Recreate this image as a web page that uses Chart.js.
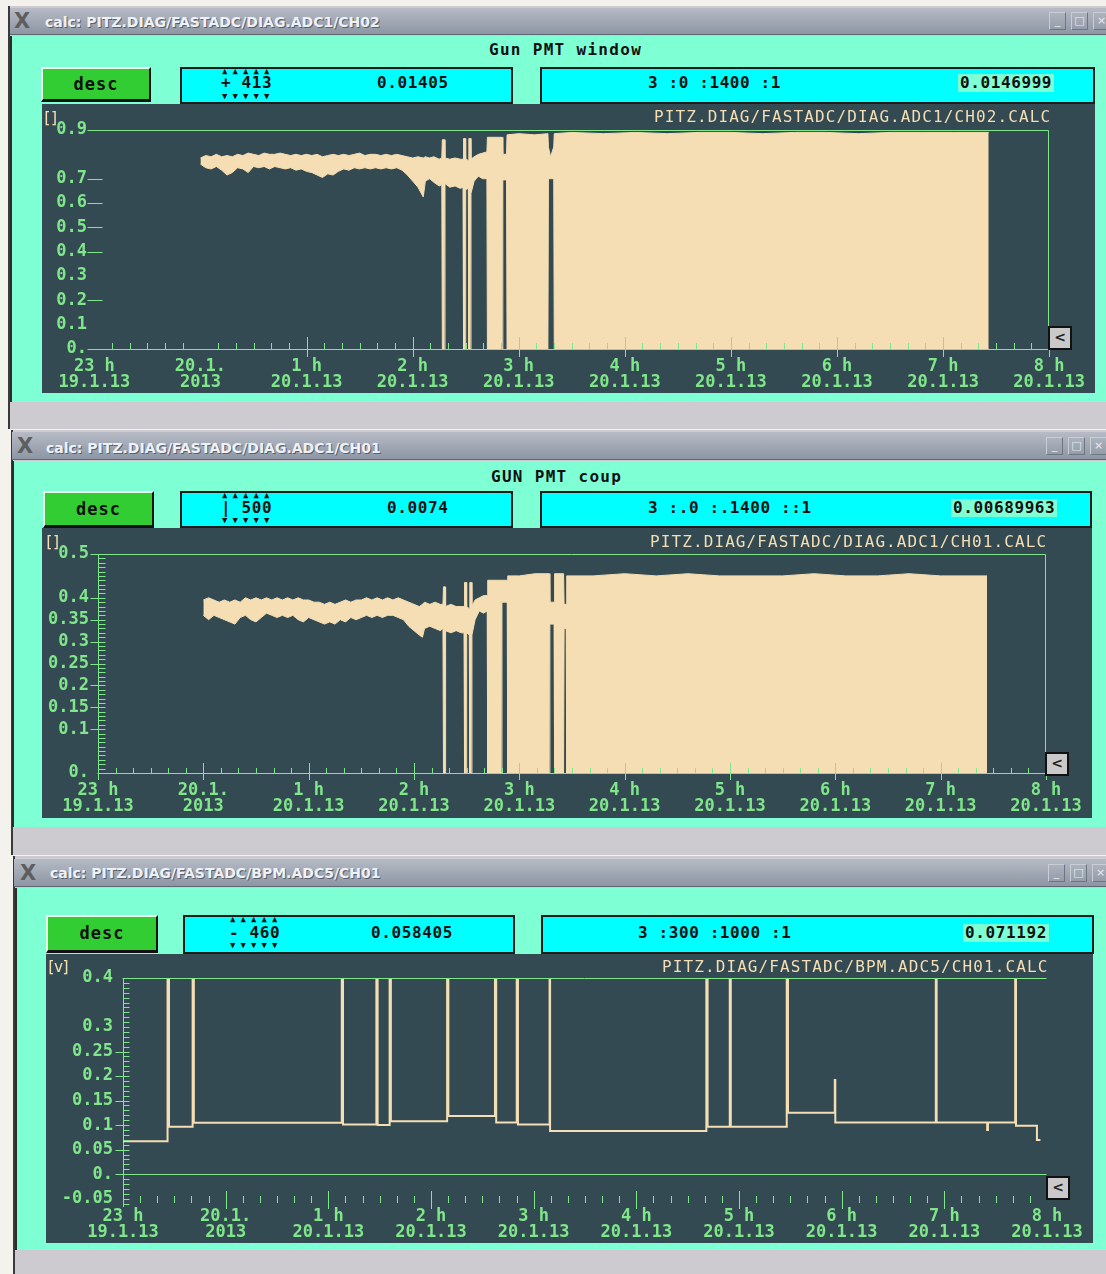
<!DOCTYPE html>
<html>
<head>
<meta charset="utf-8">
<script src="https://cdn.jsdelivr.net/npm/chart.js@4.4.1/dist/chart.umd.min.js"></script>
<style>
  body { margin: 0; width: 1106px; height: 1274px; background: #f4f2ec; position: relative; overflow: hidden; }
  .a { position: absolute; white-space: nowrap; }
  .frame { background: #cdcbcf; border-left: 2px solid #3a3a3a; }
  .bar { background: linear-gradient(#b6bbc5, #8d96a4); border-bottom: 1px solid #5f6672; }
  .ttl { font: bold 14px 'DejaVu Sans', sans-serif; color: #eef1f5; text-shadow: 1px 1px 0 #5a606b; line-height: 16px; }
  .xi { font: bold 21px 'DejaVu Sans', sans-serif; color: #5e5e5e; line-height: 22px; }
  .wb { width: 17px; height: 18px; border: 1px solid #c9cdd5; border-right-color: #6f7682; border-bottom-color: #6f7682; box-sizing: border-box; font: 11px 'DejaVu Sans'; color: #e8ebf0; text-align: center; line-height: 16px; }
  .body { background: #7fffd4; border-left: 2px solid #2c2c2c; }
  .head { font: bold 16px 'DejaVu Sans Mono', monospace; color: #111; letter-spacing: 1.3px; line-height: 18px; }
  .desc { background: #32cd32; border-top: 2px solid #eaffea; border-left: 2px solid #eaffea; border-right: 2px solid #111; border-bottom: 3px solid #111; box-sizing: border-box; font: bold 17px 'DejaVu Sans Mono', monospace; color: #111; text-align: center; letter-spacing: 1px; }
  .cy { background: #00ffff; border: 2px solid #1c1c1c; box-sizing: border-box; }
  .t { font: bold 16px 'DejaVu Sans Mono', monospace; color: #111; line-height: 18px; letter-spacing: 0.6px; }
  .arr { font: 9px 'DejaVu Sans Mono', monospace; color: #111; letter-spacing: 5.1px; line-height: 9px; }
  .hl { background: #7fffd4; padding: 0 2px; }
  .dark { background: #334a52; }
  .wt { font: 16px 'DejaVu Sans Mono', monospace; color: #f5deb3; line-height: 16px; letter-spacing: 1.1px; }
  .br { letter-spacing: -2px; }
  .sb { width: 24px; height: 24px; background: #c9c9c9; border: 2px solid #111; box-sizing: border-box; font: bold 14px 'DejaVu Sans'; color: #222; text-align: center; line-height: 19px; }
  canvas { position: absolute; }
</style>
</head>
<body>

<!-- window 1 -->
<div class="a frame" style="left:8px;top:6px;width:1098px;height:423px"></div>
<div class="a bar" style="left:10px;top:8px;width:1096px;height:26px"></div>
<div class="a xi" style="left:14px;top:10px">X</div>
<div class="a ttl" style="left:45px;top:14px">calc: PITZ.DIAG/FASTADC/DIAG.ADC1/CH02</div>
<div class="a wb" style="left:1049px;top:12px">_</div>
<div class="a wb" style="left:1071px;top:12px">□</div>
<div class="a wb" style="left:1093px;top:12px">×</div>
<div class="a body" style="left:10px;top:36px;width:1094px;height:366px"></div>
<div class="a head" style="left:489px;top:41px">Gun PMT window</div>
<div class="a desc" style="left:41px;top:67px;width:110px;height:35px;line-height:30px">desc</div>
<div class="a cy" style="left:180px;top:67px;width:333px;height:37px"></div>
<div class="a arr" style="left:222px;top:67px">▲▲▲▲▲</div>
<div class="a t" style="left:221px;top:74px">+ 413</div>
<div class="a arr" style="left:222px;top:92px">▼▼▼▼▼</div>
<div class="a t" style="left:377px;top:74px">0.01405</div>
<div class="a cy" style="left:540px;top:67px;width:555px;height:37px"></div>
<div class="a t" style="left:648px;top:74px">3 :0 :1400 :1</div>
<div class="a t hl" style="left:958px;top:74px">0.0146999</div>
<div class="a dark" style="left:42px;top:104px;width:1053px;height:289px"></div>
<canvas id="c1" width="1053" height="290" style="left:42px;top:103px"></canvas>
<div class="a wt br" style="left:42px;top:110px">[]</div>
<div class="a wt" style="left:654px;top:109px">PITZ.DIAG/FASTADC/DIAG.ADC1/CH02.CALC</div>
<div class="a sb" style="left:1048px;top:326px">&lt;</div>

<!-- window 2 -->
<div class="a frame" style="left:11px;top:430px;width:1095px;height:425px"></div>
<div class="a bar" style="left:12px;top:432px;width:1094px;height:27px"></div>
<div class="a xi" style="left:17px;top:435px">X</div>
<div class="a ttl" style="left:46px;top:440px">calc: PITZ.DIAG/FASTADC/DIAG.ADC1/CH01</div>
<div class="a wb" style="left:1046px;top:437px">_</div>
<div class="a wb" style="left:1068px;top:437px">□</div>
<div class="a wb" style="left:1090px;top:437px">×</div>
<div class="a body" style="left:12px;top:461px;width:1092px;height:366px"></div>
<div class="a head" style="left:491px;top:468px">GUN PMT coup</div>
<div class="a desc" style="left:43px;top:491px;width:111px;height:37px;line-height:32px">desc</div>
<div class="a cy" style="left:180px;top:491px;width:333px;height:37px"></div>
<div class="a arr" style="left:222px;top:491px">▲▲▲▲▲</div>
<div class="a t" style="left:221px;top:499px">| 500</div>
<div class="a arr" style="left:222px;top:516px">▼▼▼▼▼</div>
<div class="a t" style="left:387px;top:499px">0.0074</div>
<div class="a cy" style="left:540px;top:491px;width:552px;height:37px"></div>
<div class="a t" style="left:648px;top:499px">3 :.0 :.1400 ::1</div>
<div class="a t hl" style="left:951px;top:499px">0.00689963</div>
<div class="a dark" style="left:42px;top:528px;width:1050px;height:290px"></div>
<canvas id="c2" width="1050" height="291" style="left:42px;top:527px"></canvas>
<div class="a wt br" style="left:44px;top:534px">[]</div>
<div class="a wt" style="left:650px;top:534px">PITZ.DIAG/FASTADC/DIAG.ADC1/CH01.CALC</div>
<div class="a sb" style="left:1045px;top:752px">&lt;</div>

<!-- window 3 -->
<div class="a frame" style="left:13px;top:856px;width:1093px;height:420px"></div>
<div class="a bar" style="left:14px;top:859px;width:1092px;height:27px"></div>
<div class="a xi" style="left:20px;top:862px">X</div>
<div class="a ttl" style="left:50px;top:865px">calc: PITZ.DIAG/FASTADC/BPM.ADC5/CH01</div>
<div class="a wb" style="left:1048px;top:864px">_</div>
<div class="a wb" style="left:1070px;top:864px">□</div>
<div class="a wb" style="left:1092px;top:864px">×</div>
<div class="a body" style="left:15px;top:888px;width:1091px;height:362px"></div>
<div class="a desc" style="left:46px;top:915px;width:112px;height:38px;line-height:33px">desc</div>
<div class="a cy" style="left:183px;top:915px;width:332px;height:39px"></div>
<div class="a arr" style="left:230px;top:915px">▲▲▲▲▲</div>
<div class="a t" style="left:229px;top:924px">- 460</div>
<div class="a arr" style="left:230px;top:941px">▼▼▼▼▼</div>
<div class="a t" style="left:371px;top:924px">0.058405</div>
<div class="a cy" style="left:541px;top:915px;width:553px;height:39px"></div>
<div class="a t" style="left:638px;top:924px">3 :300 :1000 :1</div>
<div class="a t hl" style="left:963px;top:924px">0.071192</div>
<div class="a dark" style="left:46px;top:954px;width:1047px;height:289px"></div>
<canvas id="c3" width="1047" height="290" style="left:46px;top:953px"></canvas>
<div class="a wt br" style="left:46px;top:959px">[v]</div>
<div class="a wt" style="left:662px;top:959px">PITZ.DIAG/FASTADC/BPM.ADC5/CH01.CALC</div>
<div class="a sb" style="left:1046px;top:1176px">&lt;</div>

<script>
const GREEN = '#80e68a';
const WHEAT = '#f5deb3';

// time axis, hours relative to 20.1.2013 00:00
const tickHours = [-1, 0, 1, 2, 3, 4, 5, 6, 7, 8];
const tickTimes = ['23 h', '20.1.', '1 h', '2 h', '3 h', '4 h', '5 h', '6 h', '7 h', '8 h'];
const tickDates = ['19.1.13', '2013', '20.1.13', '20.1.13', '20.1.13', '20.1.13', '20.1.13', '20.1.13', '20.1.13', '20.1.13'];

// CH02 "Gun PMT window": min/max envelope of the archived signal
const hours1 = [0.000, 0.050, 0.100, 0.150, 0.200, 0.250, 0.300, 0.350, 0.400, 0.450,
  0.500, 0.550, 0.600, 0.650, 0.700, 0.750, 0.800, 0.850, 0.900, 0.950,
  1.000, 1.050, 1.100, 1.150, 1.200, 1.250, 1.300, 1.350, 1.400, 1.450,
  1.500, 1.550, 1.600, 1.650, 1.700, 1.750, 1.800, 1.850, 1.900, 1.950,
  2.000, 2.050, 2.100, 2.120, 2.160, 2.200, 2.250, 2.275, 2.280, 2.300,
  2.305, 2.350, 2.400, 2.450, 2.475, 2.480, 2.495, 2.500, 2.525, 2.530,
  2.545, 2.550, 2.580, 2.620, 2.660, 2.700, 2.705, 2.845, 2.850, 2.885,
  2.890, 3.000, 3.150, 3.275, 3.280, 3.300, 3.330, 3.335, 3.500, 3.800,
  4.100, 4.400, 4.700, 5.000, 5.300, 5.600, 5.900, 6.200, 6.500, 6.800,
  7.100, 7.430];
const max1 = [0.785, 0.795, 0.790, 0.800, 0.790, 0.795, 0.790, 0.800, 0.795, 0.805,
  0.800, 0.795, 0.805, 0.800, 0.800, 0.805, 0.800, 0.795, 0.800, 0.795,
  0.800, 0.795, 0.800, 0.790, 0.795, 0.800, 0.795, 0.800, 0.795, 0.800,
  0.805, 0.795, 0.800, 0.800, 0.795, 0.800, 0.795, 0.800, 0.795, 0.790,
  0.785, 0.790, 0.785, 0.790, 0.785, 0.790, 0.780, 0.785, 0.860, 0.860,
  0.785, 0.780, 0.785, 0.780, 0.780, 0.865, 0.865, 0.780, 0.775, 0.865,
  0.865, 0.780, 0.790, 0.800, 0.805, 0.810, 0.870, 0.870, 0.800, 0.800,
  0.880, 0.885, 0.880, 0.885, 0.830, 0.790, 0.830, 0.885, 0.890, 0.885,
  0.890, 0.885, 0.890, 0.890, 0.885, 0.890, 0.890, 0.885, 0.890, 0.890,
  0.890, 0.890];
const min1 = [0.760, 0.745, 0.740, 0.750, 0.735, 0.715, 0.725, 0.745, 0.740, 0.725,
  0.750, 0.745, 0.750, 0.740, 0.750, 0.745, 0.740, 0.745, 0.735, 0.740,
  0.730, 0.725, 0.715, 0.705, 0.720, 0.715, 0.730, 0.740, 0.735, 0.745,
  0.740, 0.745, 0.740, 0.745, 0.740, 0.745, 0.740, 0.745, 0.735, 0.715,
  0.690, 0.665, 0.625, 0.690, 0.700, 0.685, 0.670, 0.675, 0.000, 0.000,
  0.680, 0.665, 0.670, 0.660, 0.665, 0.000, 0.000, 0.655, 0.660, 0.000,
  0.000, 0.640, 0.690, 0.710, 0.700, 0.700, 0.000, 0.000, 0.695, 0.695,
  0.000, 0.000, 0.000, 0.000, 0.700, 0.700, 0.700, 0.000, 0.000, 0.000,
  0.000, 0.000, 0.000, 0.000, 0.000, 0.000, 0.000, 0.000, 0.000, 0.000,
  0.000, 0.000];
const yTicks1 = [0, 0.1, 0.2, 0.3, 0.4, 0.5, 0.6, 0.7, 0.9];
const yLabels1 = ['0.', '0.1', '0.2', '0.3', '0.4', '0.5', '0.6', '0.7', '0.9'];

// CH01 "GUN PMT coup"
const hours2 = [0.000, 0.050, 0.100, 0.150, 0.200, 0.250, 0.300, 0.350, 0.400, 0.450,
  0.500, 0.550, 0.600, 0.650, 0.700, 0.750, 0.800, 0.850, 0.900, 0.950,
  1.000, 1.050, 1.100, 1.150, 1.200, 1.250, 1.300, 1.350, 1.400, 1.450,
  1.500, 1.550, 1.600, 1.650, 1.700, 1.750, 1.800, 1.850, 1.900, 1.950,
  2.000, 2.050, 2.080, 2.100, 2.150, 2.200, 2.250, 2.275, 2.280, 2.295,
  2.300, 2.350, 2.400, 2.450, 2.475, 2.480, 2.495, 2.500, 2.525, 2.530,
  2.545, 2.550, 2.580, 2.620, 2.660, 2.695, 2.700, 2.830, 2.835, 2.885,
  2.890, 3.000, 3.150, 3.285, 3.290, 3.330, 3.335, 3.420, 3.425, 3.445,
  3.450, 3.700, 4.000, 4.300, 4.600, 4.900, 5.200, 5.500, 5.800, 6.100,
  6.400, 6.700, 7.000, 7.440];
const max2 = [0.395, 0.400, 0.395, 0.390, 0.395, 0.390, 0.395, 0.390, 0.400, 0.395,
  0.400, 0.395, 0.400, 0.395, 0.400, 0.395, 0.400, 0.395, 0.400, 0.395,
  0.395, 0.390, 0.390, 0.385, 0.390, 0.385, 0.390, 0.395, 0.390, 0.395,
  0.395, 0.400, 0.395, 0.400, 0.395, 0.400, 0.395, 0.400, 0.395, 0.390,
  0.385, 0.380, 0.385, 0.390, 0.385, 0.390, 0.385, 0.385, 0.425, 0.425,
  0.380, 0.385, 0.380, 0.380, 0.380, 0.435, 0.435, 0.380, 0.375, 0.435,
  0.435, 0.380, 0.395, 0.400, 0.405, 0.405, 0.440, 0.440, 0.440, 0.440,
  0.450, 0.450, 0.455, 0.455, 0.390, 0.390, 0.455, 0.455, 0.385, 0.385,
  0.450, 0.450, 0.455, 0.450, 0.455, 0.450, 0.450, 0.450, 0.455, 0.450,
  0.450, 0.455, 0.450, 0.450];
const min2 = [0.360, 0.350, 0.360, 0.355, 0.350, 0.345, 0.340, 0.355, 0.360, 0.350,
  0.345, 0.355, 0.365, 0.360, 0.355, 0.360, 0.355, 0.360, 0.350, 0.345,
  0.355, 0.350, 0.345, 0.340, 0.345, 0.340, 0.350, 0.345, 0.355, 0.350,
  0.355, 0.360, 0.355, 0.360, 0.355, 0.360, 0.360, 0.355, 0.350, 0.335,
  0.325, 0.315, 0.310, 0.330, 0.335, 0.330, 0.325, 0.330, 0.000, 0.000,
  0.325, 0.320, 0.325, 0.320, 0.320, 0.000, 0.000, 0.320, 0.315, 0.000,
  0.000, 0.315, 0.350, 0.370, 0.365, 0.370, 0.000, 0.000, 0.390, 0.390,
  0.000, 0.000, 0.000, 0.000, 0.340, 0.340, 0.000, 0.000, 0.330, 0.330,
  0.000, 0.000, 0.000, 0.000, 0.000, 0.000, 0.000, 0.000, 0.000, 0.000,
  0.000, 0.000, 0.000, 0.000];
const yTicks2 = [0, 0.1, 0.15, 0.2, 0.25, 0.3, 0.35, 0.4, 0.5];
const yLabels2 = ['0.', '0.1', '0.15', '0.2', '0.25', '0.3', '0.35', '0.4', '0.5'];

// BPM.ADC5/CH01, sample-and-hold values [V]
const hours3 = [-1.000, -0.566, -0.552, -0.322, -0.310, 1.131, 1.143, 1.468, 1.480, 1.597,
  1.609, 2.157, 2.169, 2.623, 2.635, 2.835, 2.847, 3.155, 3.160, 4.682,
  4.694, 4.910, 4.920, 5.465, 5.477, 5.933, 5.938, 6.917, 6.925, 7.417,
  7.425, 7.690, 7.698, 7.902, 7.936];
const volts3 = [0.0673, 0.50, 0.0966, 0.50, 0.1047, 0.50, 0.1014, 0.50, 0.1000, 0.50,
  0.1080, 0.50, 0.1184, 0.50, 0.1054, 0.50, 0.1014, 0.50, 0.0878, 0.50,
  0.0966, 0.50, 0.0966, 0.50, 0.1250, 0.192, 0.1054, 0.50, 0.1054, 0.0898,
  0.1054, 0.50, 0.0986, 0.0694, 0.0694];
const yTicks3 = [-0.05, 0, 0.05, 0.1, 0.15, 0.2, 0.25, 0.3, 0.4];
const yLabels3 = ['-0.05', '0.', '0.05', '0.1', '0.15', '0.2', '0.25', '0.3', '0.4'];

const tickFont = { family: "'DejaVu Sans Mono', monospace", size: 17, weight: 'bold', lineHeight: 0.92 };

// frame lines and the minor/major tick marks of the old scope display
const scopeAxes = {
  id: 'scopeAxes',
  afterDatasetsDraw(chart, args, o) {
    const { ctx, chartArea: a } = chart;
    const x = chart.scales.x, y = chart.scales.y;
    const seg = (x1, y1, x2, y2) => { ctx.beginPath(); ctx.moveTo(x1, y1); ctx.lineTo(x2, y2); ctx.stroke(); };
    ctx.save();
    ctx.strokeStyle = GREEN;
    ctx.lineWidth = 1;
    const L = Math.round(a.left) + 0.5, R = Math.round(a.right) - 0.5, T = Math.round(a.top) + 0.5;
    const B = Math.round(a.bottom) + 0.5;
    if (o.top) seg(L - 1, T, R, T);
    if (o.right) seg(R, T, R, B);
    if (o.bottom) seg(L - 1, B, R, B);
    if (o.zero) { const z = Math.round(y.getPixelForValue(0)) + 0.5; seg(L, z, R, z); }
    const base = Math.round(o.tickAt === undefined ? a.bottom : y.getPixelForValue(o.tickAt));
    for (let m = Math.ceil(x.min * 6); m <= Math.floor(x.max * 6); m++) {
      const px = Math.round(x.getPixelForValue(m / 6)) + 0.5;
      if (m % 6 === 0) {
        if (o.majors.includes(m / 6)) seg(px, base + o.major[0], px, base + o.major[1]);
      } else {
        seg(px, base + o.minor[0], px, base + o.minor[1]);
      }
    }
    o.dashAt.forEach(v => {
      const py = Math.round(y.getPixelForValue(v)) + 0.5;
      seg(L + o.dash[0], py, L + o.dash[1], py);
    });
    if (o.yMinor) {
      for (let k = Math.ceil(y.min * 100); k <= Math.floor(y.max * 100); k++) {
        const py = Math.round(y.getPixelForValue(k / 100)) + 0.5;
        seg(L, py, L + o.yMinor, py);
      }
    }
    ctx.restore();
  }
};

function timeAxis(p) {
  return {
    type: 'linear', min: p.xMin, max: 8,
    afterBuildTicks: ax => { ax.ticks = tickHours.map(v => ({ value: v })); },
    afterFit: ax => { ax.height = p.xH; },
    grid: { display: false, drawTicks: false },
    border: { display: p.xBorder, color: GREEN, width: 1 },
    ticks: {
      autoSkip: false, maxRotation: 0, minRotation: 0, padding: p.xPad, color: GREEN, font: tickFont,
      callback: v => { const i = tickHours.indexOf(v); return [tickTimes[i], tickDates[i]]; }
    }
  };
}

function valueAxis(p) {
  return {
    min: p.yMin, max: p.yMax,
    afterBuildTicks: ax => { ax.ticks = p.yTicks.map(v => ({ value: v })); },
    afterFit: ax => { ax.width = p.yW; },
    grid: { display: false, drawTicks: false },
    border: { display: p.yBorder, color: GREEN, width: 1 },
    ticks: { padding: p.yPad, color: GREEN, font: tickFont, callback: v => p.yLabels[p.yTicks.indexOf(v)] }
  };
}

function bandDatasets(hours, hi, lo) {
  return [
    { data: hours.map((h, i) => ({ x: h, y: hi[i] })), borderColor: WHEAT, backgroundColor: WHEAT,
      borderWidth: 1, pointRadius: 0, fill: '+1' },
    { data: hours.map((h, i) => ({ x: h, y: lo[i] })), borderColor: WHEAT, borderWidth: 1, pointRadius: 0, fill: false }
  ];
}

function createScope(id, datasets, p, axes) {
  new Chart(document.getElementById(id), {
    type: 'line',
    data: { datasets: datasets },
    options: {
      responsive: false,
      animation: false,
      layout: { padding: p.padding },
      scales: { x: timeAxis(p), y: valueAxis(p) },
      plugins: { legend: { display: false }, tooltip: { enabled: false }, scopeAxes: axes }
    },
    plugins: [scopeAxes]
  });
}

document.addEventListener('DOMContentLoaded', () => {
  createScope('c1', bandDatasets(hours1, max1, min1),
    { xMin: -1.06, xH: 44, xPad: 10, xBorder: true, yMin: 0, yMax: 0.9, yTicks: yTicks1, yLabels: yLabels1,
      yW: 46, yPad: 1, yBorder: false, padding: { top: 27, right: 45, left: 0, bottom: 0 } },
    { top: true, right: true, bottom: true, zero: false, majors: [1, 2, 3, 4, 5, 6, 7, 8], major: [-12, 8], minor: [-6, 0],
      dashAt: [0.2, 0.4, 0.5, 0.6, 0.7], dash: [-1, 14], yMinor: 0 });

  createScope('c2', bandDatasets(hours2, max2, min2),
    { xMin: -1, xH: 45, xPad: 10, xBorder: true, yMin: 0, yMax: 0.5, yTicks: yTicks2, yLabels: yLabels2,
      yW: 56, yPad: 9, yBorder: true, padding: { top: 27, right: 46, left: 0, bottom: 0 } },
    { top: true, right: true, bottom: true, zero: false, majors: [-1, 0, 1, 2, 3, 4, 5, 6, 7, 8], major: [-10, 7], minor: [-5, 0],
      dashAt: [0.1, 0.15, 0.2, 0.25, 0.3, 0.35, 0.4, 0.5], dash: [-8, 0], yMinor: 7 });

  createScope('c3', [{ data: hours3.map((h, i) => ({ x: h, y: volts3[i] })), stepped: true,
      borderColor: WHEAT, borderWidth: 2, pointRadius: 0, fill: false }],
    { xMin: -1, xH: 37, xPad: 3, xBorder: false, yMin: -0.065, yMax: 0.4, yTicks: yTicks3, yLabels: yLabels3,
      yW: 77, yPad: 10, yBorder: true, padding: { top: 25, right: 46, left: 0, bottom: 0 } },
    { top: true, right: false, bottom: false, zero: true, tickAt: -0.05, majors: [0, 1, 2, 3, 4, 5, 6, 7], major: [-8, 10], minor: [-3, 4],
      dashAt: [0, 0.05, 0.1, 0.15, 0.2, 0.25], dash: [-8, 0], yMinor: 6 });
});
</script>
</body>
</html>
